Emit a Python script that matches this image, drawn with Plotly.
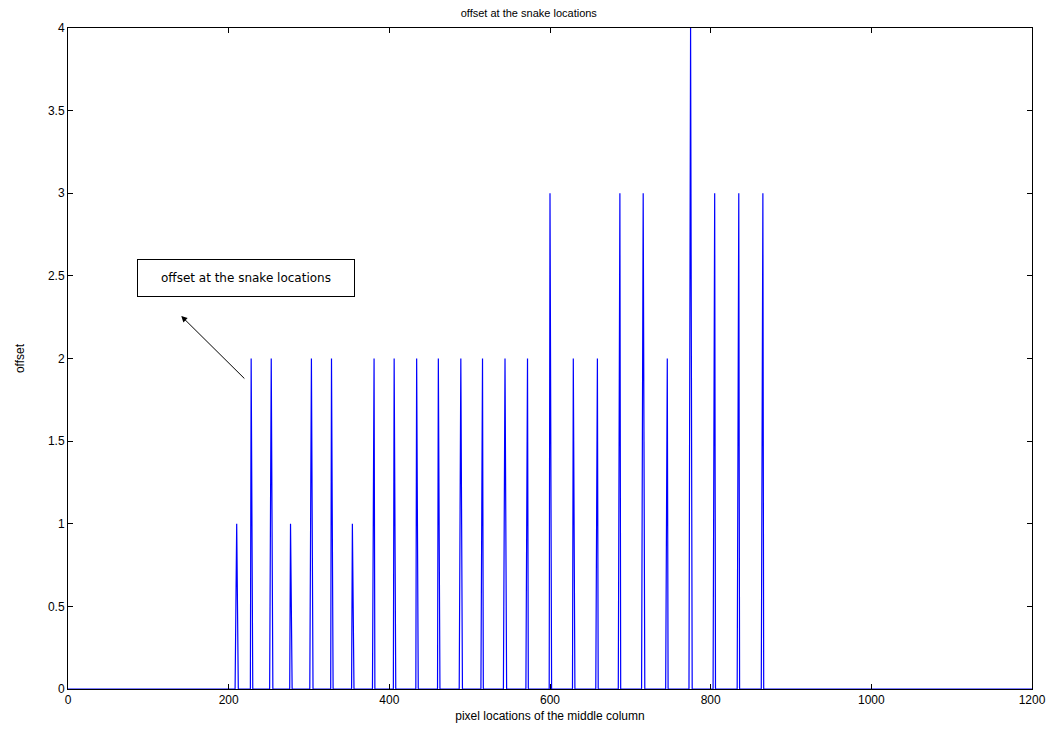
import plotly.graph_objects as go

# spike start positions (pixel location along middle column) and the offset values that follow
spike_starts = [209, 228, 252, 277, 302, 328, 354, 380, 406, 434, 461, 488, 515, 543,
                571, 600, 629, 658, 686, 715, 745, 774, 804, 834, 864]
spike_values = [[0.5, 1, 0.5], [2, 1], [1, 2, 1], [1, 0.5], [1, 2, 1], [2, 1], [1, 0.5],
                [1, 2], [2, 1], [2, 1], [2, 1], [1, 2, 1], [1, 2], [1, 2, 1],
                [1, 2], [3, 1.5], [2, 1], [1, 2], [1.5, 3], [1.5, 3, 1.5], [1, 2],
                [2, 4, 2], [1.5, 3], [1.5, 3], [1.5, 3]]
x_start, x_end = 0, 1200

xs, ys = [x_start], [0]
for s, vals in zip(spike_starts, spike_values):
    xs.append(s - 1); ys.append(0)
    for i, v in enumerate(vals):
        xs.append(s + i); ys.append(v)
    xs.append(s + len(vals)); ys.append(0)
xs.append(x_end); ys.append(0)

FONT = "Liberation Sans, Arial"

fig = go.Figure()
fig.add_trace(go.Scatter(x=xs, y=ys, mode="lines",
                         line=dict(color="#0000ff", width=1.2), showlegend=False))

axis_common = dict(showline=True, linecolor="black", linewidth=1, mirror="ticks",
                   ticks="inside", ticklen=5, tickcolor="black", showgrid=False,
                   zeroline=False, tickfont=dict(family=FONT, size=12, color="black"))

fig.update_layout(
    width=1050, height=727,
    margin=dict(l=54, r=25, t=20, b=46),
    paper_bgcolor="white", plot_bgcolor="white",
    title=dict(text="offset at the snake locations", x=0.496, xanchor="center",
               xref="container", yref="container", y=1.0, yanchor="top",
               pad=dict(t=1, b=0, l=0, r=0),
               font=dict(family=FONT, size=11, color="black")),
    xaxis=dict(range=[0, 1200], tickvals=[0, 200, 400, 600, 800, 1000, 1200],
               title=dict(text="pixel locations of the middle column", standoff=5,
                          font=dict(family=FONT, size=12, color="black")),
               **axis_common),
    yaxis=dict(range=[0, 4], tickvals=[0, 0.5, 1, 1.5, 2, 2.5, 3, 3.5, 4],
               ticktext=["0", "0.5", "1", "1.5", "2", "2.5", "3", "3.5", "4"],
               title=dict(text="offset", standoff=20,
                          font=dict(family=FONT, size=12, color="black")),
               **axis_common),
)

fig.add_annotation(x=141, y=2.257, ax=221.4, ay=1.87, xref="x", yref="y", axref="x", ayref="y",
                   text="", showarrow=True, arrowhead=2, arrowsize=1.2, arrowwidth=1,
                   arrowcolor="black")
fig.add_annotation(x=222, y=2.487, xref="x", yref="y", text="offset at the snake locations",
                   showarrow=False, bordercolor="black", borderwidth=1, borderpad=8,
                   width=200, height=20, bgcolor="white",
                   font=dict(family="DejaVu Sans", size=12, color="black"))

fig.write_html("out.html")
